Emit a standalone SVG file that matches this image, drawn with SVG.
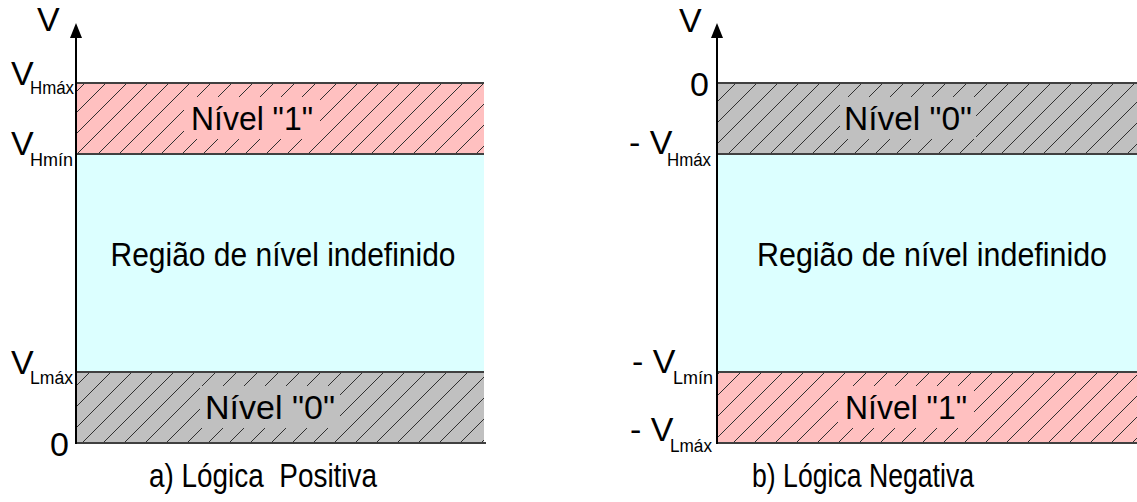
<svg xmlns="http://www.w3.org/2000/svg" width="1137" height="502" viewBox="0 0 1137 502">
<style>
  text { font-family: "Liberation Sans", Arial, sans-serif; fill: #000; }
  .big { font-size: 33px; }
  .v { font-size: 34px; }
  .lbl { font-size: 33px; }
  .sub { font-size: 19px; }
  .band-line { stroke: #404040; stroke-width: 2; }
  .axis { stroke: #000; stroke-width: 2; fill: none; }
  .head { fill: #000; }
  .pink { fill: #ffc0c0; }
  .gray { fill: #c0c0c0; }
  .cyan { fill: #dcffff; }
</style>
<defs>
  <pattern id="hatch" patternUnits="userSpaceOnUse" width="21" height="21">
    <path d="M-3,3 L3,-3 M0,21 L21,0 M18,24 L24,18" stroke="#303030" stroke-width="1" fill="none"/>
  </pattern>
</defs>

<!-- LEFT PANEL: Lógica Positiva -->
<g id="left-nivel1">
  <rect class="pink" x="76" y="83" width="408" height="71"/>
  <rect fill="url(#hatch)" x="76" y="83" width="408" height="71"/>
  <rect class="pink" x="184" y="97" width="136" height="42"/>
  <text class="lbl" x="252" y="130" text-anchor="middle" textLength="122" lengthAdjust="spacingAndGlyphs">Nível "1"</text>
</g>
<g id="left-indef">
  <rect class="cyan" x="76" y="154" width="408" height="218"/>
  <text class="big" x="283" y="266" text-anchor="middle" textLength="345" lengthAdjust="spacingAndGlyphs">Região de nível indefinido</text>
</g>
<g id="left-nivel0">
  <rect class="gray" x="76" y="372" width="408" height="71"/>
  <rect fill="url(#hatch)" x="76" y="372" width="408" height="71"/>
  <rect class="gray" x="200" y="386" width="140" height="42"/>
  <text class="lbl" x="270" y="419" text-anchor="middle" textLength="130" lengthAdjust="spacingAndGlyphs">Nível "0"</text>
</g>
<g id="left-labels">
  <text class="v" x="37" y="31">V</text>
  <text class="v" x="11" y="85">V</text><text class="sub" x="30" y="94" textLength="44" lengthAdjust="spacingAndGlyphs">Hmáx</text>
  <text class="v" x="11" y="155">V</text><text class="sub" x="30" y="166" textLength="43" lengthAdjust="spacingAndGlyphs">Hmín</text>
  <text class="v" x="11" y="374">V</text><text class="sub" x="30" y="384" textLength="43" lengthAdjust="spacingAndGlyphs">Lmáx</text>
  <text class="v" x="50" y="456">0</text>
  <text class="big" x="263" y="487" text-anchor="middle" textLength="228" lengthAdjust="spacingAndGlyphs" xml:space="preserve">a) Lógica  Positiva</text>
</g>

<!-- RIGHT PANEL: Lógica Negativa -->
<g id="right-nivel0">
  <rect class="gray" x="717" y="83" width="420" height="71"/>
  <rect fill="url(#hatch)" x="717" y="83" width="420" height="71"/>
  <rect class="gray" x="840" y="97" width="136" height="42"/>
  <text class="lbl" x="908" y="130" text-anchor="middle" textLength="128" lengthAdjust="spacingAndGlyphs">Nível "0"</text>
</g>
<g id="right-indef">
  <rect class="cyan" x="717" y="154" width="420" height="218"/>
  <text class="big" x="932" y="266" text-anchor="middle" textLength="350" lengthAdjust="spacingAndGlyphs">Região de nível indefinido</text>
</g>
<g id="right-nivel1">
  <rect class="pink" x="717" y="372" width="420" height="71"/>
  <rect fill="url(#hatch)" x="717" y="372" width="420" height="71"/>
  <rect class="pink" x="838" y="386" width="136" height="42"/>
  <text class="lbl" x="906" y="419" text-anchor="middle" textLength="122" lengthAdjust="spacingAndGlyphs">Nível "1"</text>
</g>
<g id="right-labels">
  <text class="v" x="679" y="32">V</text>
  <text class="v" x="690" y="96">0</text>
  <text class="v" x="629" y="154">- V</text><text class="sub" x="667" y="166" textLength="44" lengthAdjust="spacingAndGlyphs">Hmáx</text>
  <text class="v" x="632" y="373">- V</text><text class="sub" x="673" y="384" textLength="40" lengthAdjust="spacingAndGlyphs">Lmín</text>
  <text class="v" x="630" y="441">- V</text><text class="sub" x="670" y="452" textLength="42" lengthAdjust="spacingAndGlyphs">Lmáx</text>
  <text class="big" x="863" y="487" text-anchor="middle" textLength="222" lengthAdjust="spacingAndGlyphs">b) Lógica Negativa</text>
</g>

<g id="connectors">
  <line class="band-line" x1="76" y1="83" x2="484" y2="83"/>
  <line class="band-line" x1="76" y1="154" x2="484" y2="154"/>
  <line class="band-line" x1="76" y1="372" x2="484" y2="372"/>
  <line class="band-line" x1="76" y1="443" x2="486" y2="443"/>
  <line class="band-line" x1="717" y1="83" x2="1137" y2="83"/>
  <line class="band-line" x1="717" y1="154" x2="1137" y2="154"/>
  <line class="band-line" x1="717" y1="372" x2="1137" y2="372"/>
  <line class="band-line" x1="717" y1="443" x2="1137" y2="443"/>
  <line class="axis" x1="76" y1="444" x2="76" y2="36"/>
  <polygon class="head" points="76,23 70,38 82,38"/>
  <line class="axis" x1="717" y1="444" x2="717" y2="36"/>
  <polygon class="head" points="717,23 711,38 723,38"/>
</g>
</svg>
